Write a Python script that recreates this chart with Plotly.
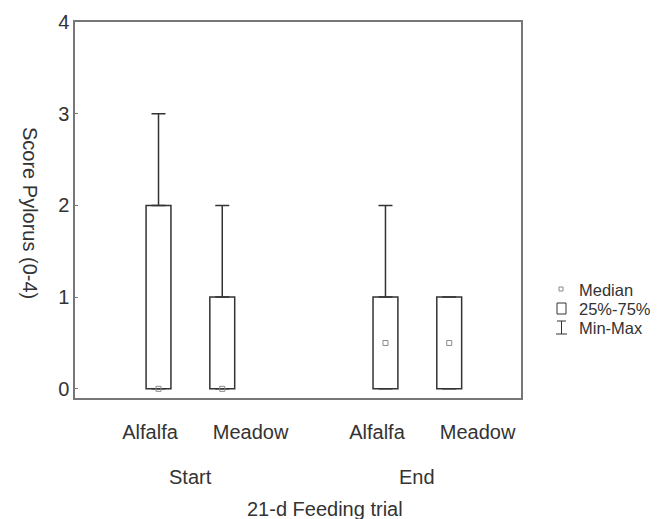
import plotly.graph_objects as go

# ---- data ----
groups = ["Start", "Start", "End", "End"]
diets = ["Alfalfa", "Meadow", "Alfalfa", "Meadow"]
q_min = [0, 0, 0, 0]
q1 = [0, 0, 0, 0]
median = [0, 0, 0.5, 0.5]
q3 = [2, 1, 1, 1]
q_max = [3, 2, 2, 1]
y_ticks = [0, 1, 2, 3, 4]
legend_labels = ["Median", "25%-75%", "Min-Max"]

# ---- layout constants (target pixel positions in the 658x519 page) ----
OFF = 8  # default page body margin
W, H = 658 - OFF, 519 - OFF
PL, PR, PT, PB = 75, 521, 22, 398  # plot frame in page pixels
ML, MT = PL - OFF, PT - OFF
MR, MB = W - (PR - OFF), H - (PB - OFF)
PW, PH = PR - PL, PB - PT
FONT = "Arial, Liberation Sans, sans-serif"
DARK = "#333333"
FRAME = "#777777"
FS = 20

group_offset = {"Start": 0.0, "End": 3.56}
sub_offset = {"Alfalfa": 0.0, "Meadow": 1.0}
label_offset = {"Alfalfa": -0.633, "Meadow": 0.944}  # tick-label spread around group centre
pos = [group_offset[g] + sub_offset[d] for g, d in zip(groups, diets)]
xr = [-1.31, 5.686]

group_names = ["Start", "End"]
group_center = {g: sum(p for p, gg in zip(pos, groups) if gg == g) /
                sum(1 for gg in groups if gg == g) for g in group_names}
label_pos = [group_center[g] + label_offset[d] for g, d in zip(groups, diets)]


def px_x(p):
    return (p - PL) / PW


def px_y(p):
    return (PB - p) / PH


fig = go.Figure()

# boxes (25%-75%)
fig.add_trace(go.Bar(
    x=pos, y=[b - a for a, b in zip(q1, q3)], base=q1, width=0.39,
    marker=dict(color="white", line=dict(color=DARK, width=1.5)),
    showlegend=False, hoverinfo="skip"))

# upper whiskers
fig.add_trace(go.Scatter(
    x=pos, y=q3, mode="markers", marker=dict(opacity=0),
    error_y=dict(type="data", symmetric=False,
                 array=[m - q for m, q in zip(q_max, q3)],
                 arrayminus=[0] * len(pos), width=7, thickness=1.5, color=DARK),
    showlegend=False, hoverinfo="skip"))

# lower whiskers
fig.add_trace(go.Scatter(
    x=pos, y=q1, mode="markers", marker=dict(opacity=0),
    error_y=dict(type="data", symmetric=False,
                 array=[0] * len(pos),
                 arrayminus=[q - m for q, m in zip(q1, q_min)], width=7, thickness=1.5, color=DARK),
    showlegend=False, hoverinfo="skip"))

# medians
fig.add_trace(go.Scatter(
    x=pos, y=median, mode="markers",
    marker=dict(symbol="square-open", size=5, color="#8a8a8a", line=dict(width=1)),
    showlegend=False, hoverinfo="skip"))

annotations = []
# group labels
for g in group_names:
    annotations.append(dict(x=group_center[g], xref="x", y=px_y(477), yref="paper",
                            text=g, showarrow=False, xanchor="center", yanchor="middle",
                            font=dict(family=FONT, size=FS, color=DARK)))
# x title
annotations.append(dict(x=px_x(325), xref="paper", y=px_y(509), yref="paper",
                        text="21-d Feeding trial", showarrow=False,
                        xanchor="center", yanchor="middle",
                        font=dict(family=FONT, size=FS, color=DARK)))
# y title (reads top to bottom)
annotations.append(dict(x=px_x(30), xref="paper", y=px_y(213), yref="paper",
                        text="Score Pylorus (0-4)", showarrow=False, textangle=90,
                        xanchor="center", yanchor="middle",
                        font=dict(family=FONT, size=FS, color=DARK)))

# manual legend
leg_rows = [289, 308, 327]
for lab, yy in zip(legend_labels, leg_rows):
    annotations.append(dict(x=px_x(577), xref="paper", y=px_y(yy + 1), yref="paper",
                            text=lab, showarrow=False, xanchor="left", yanchor="middle",
                            font=dict(family=FONT, size=16.5, color=DARK)))

shapes = [
    # median symbol
    dict(type="rect", xref="paper", yref="paper",
         x0=px_x(559), x1=px_x(563), y0=px_y(291), y1=px_y(287),
         line=dict(color="#8a8a8a", width=1)),
    # box symbol
    dict(type="rect", xref="paper", yref="paper",
         x0=px_x(557), x1=px_x(566), y0=px_y(314), y1=px_y(303),
         line=dict(color=DARK, width=1)),
    # whisker symbol
    dict(type="line", xref="paper", yref="paper",
         x0=px_x(561.5), x1=px_x(561.5), y0=px_y(334), y1=px_y(321),
         line=dict(color=DARK, width=1)),
    dict(type="line", xref="paper", yref="paper",
         x0=px_x(557), x1=px_x(566), y0=px_y(321), y1=px_y(321),
         line=dict(color=DARK, width=1)),
    dict(type="line", xref="paper", yref="paper",
         x0=px_x(556), x1=px_x(567), y0=px_y(334), y1=px_y(334),
         line=dict(color=DARK, width=1)),
]

fig.update_layout(
    width=W, height=H,
    margin=dict(l=ML, r=MR, t=MT, b=MB, autoexpand=False),
    paper_bgcolor="white", plot_bgcolor="white",
    showlegend=False,
    annotations=annotations,
    shapes=shapes,
    font=dict(family=FONT, size=FS, color=DARK),
    xaxis=dict(range=xr, tickvals=label_pos, ticktext=diets, tickangle=0,
               ticks="outside", ticklen=15, automargin=False,
               tickcolor="rgba(0,0,0,0)", showgrid=False, zeroline=False,
               showline=True, linecolor=FRAME, linewidth=1.5, mirror=True,
               tickfont=dict(family=FONT, size=FS, color=DARK)),
    yaxis=dict(range=[-0.1, 4.0], tickvals=y_ticks, ticks="inside", ticklen=3,
               automargin=False,
               tickcolor=FRAME, showgrid=False, zeroline=False,
               showline=True, linecolor=FRAME, linewidth=1.5, mirror=True,
               tickfont=dict(family=FONT, size=FS, color=DARK)),
)

fig.write_html("out.html")
